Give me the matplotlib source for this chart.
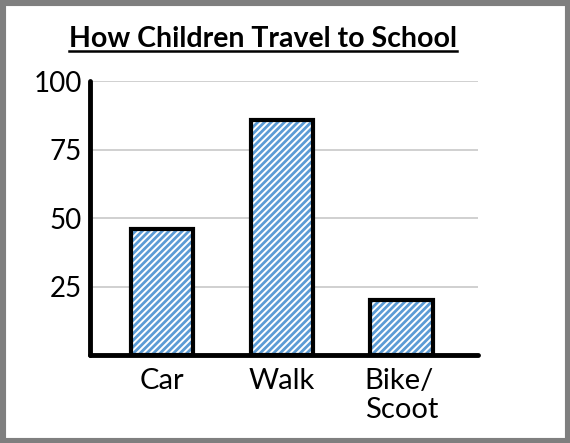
import matplotlib
matplotlib.use("Agg")
import matplotlib.pyplot as plt
from matplotlib.patches import Rectangle
from matplotlib.lines import Line2D

categories = ["Car", "Walk", "Bike/\nScoot"]
values = [46, 86, 20]
yticks = [25, 50, 75, 100]
title = "How Children Travel to School"

plt.rcParams['font.family'] = ['Lato', 'DejaVu Sans']
plt.rcParams['hatch.linewidth'] = 2.0

fig = plt.figure(figsize=(5.7, 4.43), dpi=100)
ax = fig.add_axes([0.158, 0.1986, 0.681, 0.618])

x = list(range(len(categories)))
ax.bar(x, values, width=0.52, color='white', edgecolor='#5b9bd5',
       linewidth=0, hatch='/////', zorder=3)
ax.bar(x, values, width=0.52, fill=False, edgecolor='black',
       linewidth=3, zorder=4)

ax.set_xlim(-0.6, 2.64)
ax.set_ylim(0, 100)
ax.set_yticks(yticks)
ax.set_yticklabels([str(v) for v in yticks], fontsize=20)
ax.set_xticks(x)
ax.set_xticklabels(categories, fontsize=21, linespacing=1.15, va='top',
                   multialignment='left')
ax.tick_params(axis='both', length=0)
ax.tick_params(axis='y', pad=6)
ax.tick_params(axis='x', pad=9)
ax.yaxis.grid(True, color='#c8c8c8', linewidth=1.2, zorder=0)
ax.set_axisbelow(True)
for s in ['top', 'right']:
    ax.spines[s].set_visible(False)
for s in ['left', 'bottom']:
    ax.spines[s].set_linewidth(3.5)
    ax.spines[s].set_capstyle('round')
    ax.spines[s].set_zorder(5)

# outer grey frame
fig.patches.append(Rectangle((0, 0), 1, 1, transform=fig.transFigure,
                             fill=False, edgecolor='#7f7f7f', linewidth=8))

t = fig.text(0.461, 0.894, title, ha='center', va='baseline',
             fontsize=20.5, fontweight='bold')
fig.canvas.draw()
bb = t.get_window_extent(renderer=fig.canvas.get_renderer())
inv = fig.transFigure.inverted()
(x0, y0), (x1, y1) = inv.transform([(bb.x0, bb.y0), (bb.x1, bb.y1)])
fig.lines.append(Line2D([x0, x1], [0.885, 0.885], transform=fig.transFigure,
                        color='black', linewidth=1.8))

fig.savefig("out.png", dpi=100)
